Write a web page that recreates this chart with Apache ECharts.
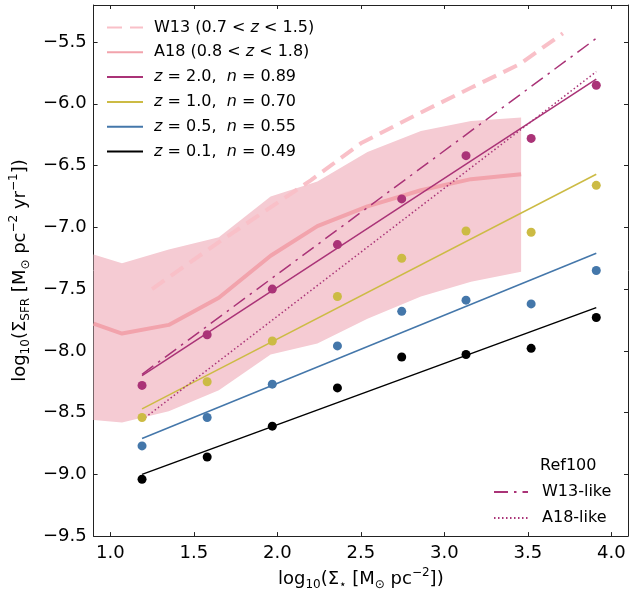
<!DOCTYPE html>
<html><head><meta charset="utf-8">
<script src="https://cdn.jsdelivr.net/npm/echarts@6/dist/echarts.min.js"></script>
<style>html,body{margin:0;padding:0;background:#fff}#c{width:630px;height:596px}</style>
</head><body><div id="c"></div>
<script>
// ---- data ----
const xPts   = [1.19, 1.58, 1.97, 2.36, 2.745, 3.13, 3.52, 3.91];
const z20Pts = [-8.28, -7.87, -7.50, -7.14, -6.77, -6.42, -6.28, -5.85];
const z10Pts = [-8.54, -8.25, -7.92, -7.56, -7.25, -7.03, -7.04, -6.66];
const z05Pts = [-8.77, -8.54, -8.27, -7.96, -7.68, -7.59, -7.62, -7.35];
const z01Pts = [-9.04, -8.86, -8.61, -8.30, -8.05, -8.03, -7.98, -7.73];

const xFit   = [1.19, 3.91];
const z20Fit = [-8.20, -5.80];
const z10Fit = [-8.47, -6.57];
const z05Fit = [-8.71, -7.21];
const z01Fit = [-9.00, -7.65];
const w13LikeFit = [-8.19, -5.47];
const a18LikeFit = [-8.56, -5.74];

const bandX  = [0.9, 1.07, 1.35, 1.65, 1.96, 2.24, 2.54, 2.86, 3.16, 3.46];
const bandHi = [-7.22, -7.29, -7.18, -7.08, -6.75, -6.63, -6.39, -6.22, -6.14, -6.11];
const bandLo = [-8.56, -8.58, -8.49, -8.32, -8.03, -7.94, -7.74, -7.56, -7.44, -7.36];
const a18Med = [-7.78, -7.86, -7.79, -7.57, -7.23, -6.99, -6.83, -6.70, -6.61, -6.57];

const w13X = [1.25, 1.65, 2.2, 2.5, 2.86, 3.16, 3.45, 3.71];
const w13Y = [-7.50, -7.12, -6.62, -6.32, -6.07, -5.87, -5.68, -5.43];

const xTicks = [1.0, 1.5, 2.0, 2.5, 3.0, 3.5, 4.0];
const yTicks = [-9.5, -9.0, -8.5, -8.0, -7.5, -7.0, -6.5, -6.0, -5.5];

// ---- helpers ----
const FONT = 'DejaVu Sans';
const zip = (xs, ys) => xs.map((x, i) => [x, ys[i]]);
const C = {purple:'#AA3377', yellow:'#CCBB44', blue:'#4477AA', black:'#000000',
           band:'#f5cbd3', med:'#f2a3ac', w13:'#f9c0c8'};
const axisCol = '#222';
const fmtY = v => (v < 0 ? '\u2212' : '') + Math.abs(v).toFixed(1);

const nameRich = {
  sub: {fontSize: 12, fontFamily: FONT, color: '#000', verticalAlign: 'bottom', lineHeight: 12},
  sup: {fontSize: 12, fontFamily: FONT, color: '#000', verticalAlign: 'top', lineHeight: 12}
};
const legendRich = {
  i: {fontStyle: 'italic', fontSize: 16, fontFamily: FONT, color: '#000'}
};
const legendText = {
  'W13': 'W13 (0.7 < {i|z} < 1.5)',
  'A18': 'A18 (0.8 < {i|z} < 1.8)',
  'z2':  '{i|z} = 2.0,  {i|n} = 0.89',
  'z1':  '{i|z} = 1.0,  {i|n} = 0.70',
  'z05': '{i|z} = 0.5,  {i|n} = 0.55',
  'z01': '{i|z} = 0.1,  {i|n} = 0.49',
  'W13-like': 'W13-like',
  'A18-like': 'A18-like'
};

function baseX(extra) {
  return Object.assign({
    type: 'value', min: 0.9, max: 4.1,
    axisLine: {show: true, onZero: false, lineStyle: {color: axisCol, width: 1}},
    axisTick: {show: true, inside: true, length: 4, customValues: xTicks, lineStyle: {color: axisCol}},
    splitLine: {show: false}
  }, extra);
}
function baseY(extra) {
  return Object.assign({
    type: 'value', min: -9.5, max: -5.2,
    axisLine: {show: true, onZero: false, lineStyle: {color: axisCol, width: 1}},
    axisTick: {show: true, inside: true, length: 4, customValues: yTicks, lineStyle: {color: axisCol}},
    splitLine: {show: false}
  }, extra);
}

const lineS = (name, xs, ys, color, width, type, z) => ({
  name, type: 'line', data: zip(xs, ys), symbol: 'none', showSymbol: false,
  lineStyle: {color, width, type: type || 'solid'}, itemStyle: {color},
  z: z || 3, silent: true, animation: false
});
const scatS = (name, ys, color) => ({
  name, type: 'scatter', data: zip(xPts, ys), symbolSize: 9,
  itemStyle: {color, opacity: 1}, z: 6, silent: true, animation: false
});

const hiddenSym = {color: 'rgba(0,0,0,0)', opacity: 0, borderWidth: 0};

const chart = echarts.init(document.getElementById('c'), null, {renderer: 'canvas'});
chart.setOption({
  animation: false,
  backgroundColor: '#fff',
  textStyle: {fontFamily: FONT},
  grid: {left: 92, right: 2, top: 5, bottom: 58, containLabel: false},
  xAxis: [
    baseX({position: 'bottom',
      axisLabel: {customValues: xTicks, formatter: v => v.toFixed(1), fontSize: 18, color: '#000', fontFamily: FONT, margin: 8},
      name: 'log{sub|10}(Σ{sub|⋆} [M{sub|⊙} pc{sup|−2}])', nameLocation: 'middle', nameGap: 30,
      nameTextStyle: {fontSize: 18, color: '#000', fontFamily: FONT, lineHeight: 24, rich: nameRich}}),
    baseX({position: 'top', axisLabel: {show: false}})
  ],
  yAxis: [
    baseY({position: 'left',
      axisLabel: {customValues: yTicks, formatter: fmtY, fontSize: 18, color: '#000', fontFamily: FONT, margin: 7},
      name: 'log{sub|10}(Σ{sub|SFR} [M{sub|⊙} pc{sup|−2} yr{sup|−1}])', nameLocation: 'middle', nameGap: 60, nameRotate: 90,
      nameTextStyle: {fontSize: 18, color: '#000', fontFamily: FONT, lineHeight: 24, rich: nameRich}}),
    baseY({position: 'right', axisLabel: {show: false}})
  ],
  legend: [
    {
      data: ['W13', 'A18', 'z2', 'z1', 'z05', 'z01'],
      orient: 'vertical', left: 106, top: 18.5, padding: 0, itemGap: 6.8,
      itemWidth: 36, itemHeight: 14, selectedMode: false,
      itemStyle: hiddenSym,
      formatter: n => legendText[n],
      textStyle: {fontSize: 16, color: '#000', fontFamily: FONT, lineHeight: 18, padding: [0, 0, 0, 6], rich: legendRich}
    },
    {
      data: ['W13-like', 'A18-like'],
      orient: 'vertical', left: 493, top: 483, padding: 0, itemGap: 7.9,
      itemWidth: 34, itemHeight: 14, selectedMode: false,
      itemStyle: hiddenSym,
      formatter: n => legendText[n],
      textStyle: {fontSize: 16, color: '#000', fontFamily: FONT, lineHeight: 18, padding: [0, 0, 0, 9], rich: legendRich}
    }
  ],
  graphic: [
    {type: 'text', left: 540, top: 458, z: 100,
     style: {text: 'Ref100', fontSize: 16, fontFamily: FONT, fill: '#000'}}
  ],
  series: [
    {
      name: 'A18band', type: 'custom', data: [[bandX[0], bandHi[0]]], z: 1, silent: true, animation: false,
      renderItem: (params, api) => {
        const pts = [];
        for (let i = 0; i < bandX.length; i++) pts.push(api.coord([bandX[i], bandHi[i]]));
        for (let i = bandX.length - 1; i >= 0; i--) pts.push(api.coord([bandX[i], bandLo[i]]));
        return {type: 'polygon', shape: {points: pts}, style: {fill: C.band}};
      }
    },
    lineS('A18', bandX, a18Med, C.med, 4, 'solid', 2),
    lineS('W13', w13X, w13Y, C.w13, 4, [15, 8], 2),
    lineS('z2', xFit, z20Fit, C.purple, 1.5),
    lineS('z1', xFit, z10Fit, C.yellow, 1.5),
    lineS('z05', xFit, z05Fit, C.blue, 1.5),
    lineS('z01', xFit, z01Fit, C.black, 1.5),
    lineS('W13-like', xFit, w13LikeFit, C.purple, 1.5, [14, 6, 2.5, 6]),
    lineS('A18-like', xFit, a18LikeFit, C.purple, 1.5, [1.5, 2.5]),
    scatS('z2pts', z20Pts, C.purple),
    scatS('z1pts', z10Pts, C.yellow),
    scatS('z05pts', z05Pts, C.blue),
    scatS('z01pts', z01Pts, C.black)
  ]
});
</script></body></html>
